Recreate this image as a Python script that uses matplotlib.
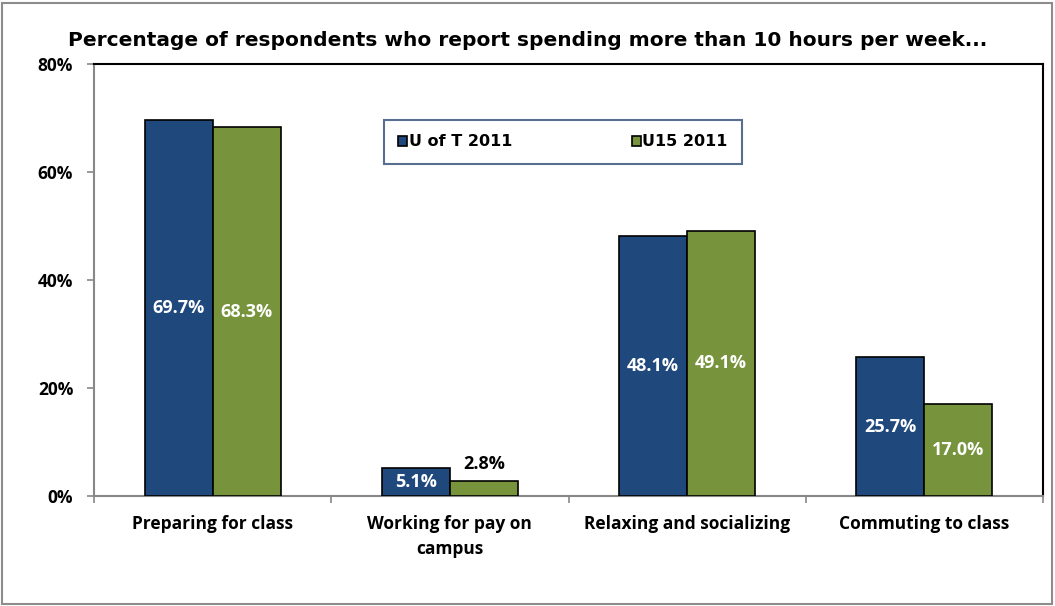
import matplotlib
matplotlib.use("Agg")
import matplotlib.pyplot as plt
import numpy as np
from matplotlib.patches import Rectangle

categories = ["Preparing for class", "Working for pay on\ncampus",
              "Relaxing and socializing", "Commuting to class"]
uoft_2011 = [69.7, 5.1, 48.1, 25.7]
u15_2011 = [68.3, 2.8, 49.1, 17.0]
series_names = ["U of T 2011", "U15 2011"]

blue = "#1F497D"
green = "#77933C"
label_font = ["Open Sans", "DejaVu Sans"]
title_font = ["DejaVu Sans"]

fig = plt.figure(figsize=(10.55, 6.06), dpi=100)
ax = fig.add_axes([94 / 1055, 1 - 496 / 606, (1043 - 94) / 1055, (496 - 64) / 606])

x = np.arange(len(categories))
w = 0.287
b1 = ax.bar(x - w / 2, uoft_2011, w, color=blue, edgecolor="black", linewidth=1.2,
            label=series_names[0], zorder=3)
b2 = ax.bar(x + w / 2, u15_2011, w, color=green, edgecolor="black", linewidth=1.2,
            label=series_names[1], zorder=3)

# value labels: white inside the bar, black above when the bar is too short
for bars, vals in ((b1, uoft_2011), (b2, u15_2011)):
    for rect, v in zip(bars, vals):
        cx = rect.get_x() + rect.get_width() / 2
        if v < 4:
            ax.text(cx, v + 1.5, f"{v:.1f}%", ha="center", va="bottom", color="black",
                    fontsize=13, fontweight="bold", family=label_font, zorder=4)
        else:
            ax.text(cx, v / 2, f"{v:.1f}%", ha="center", va="center", color="white",
                    fontsize=13, fontweight="bold", family=label_font, zorder=4)

ax.set_xlim(-0.5, len(categories) - 0.5)
ax.set_ylim(0, 80)
ax.set_yticks([0, 20, 40, 60, 80])
ax.set_yticklabels(["0%", "20%", "40%", "60%", "80%"])
ax.set_xticks(x)
ax.set_xticklabels(categories, linespacing=1.45)
ax.set_xticks(np.arange(-0.5, len(categories)), minor=True)
ax.tick_params(axis="x", which="major", length=0, pad=14)
ax.tick_params(axis="x", which="minor", length=5, color="#888888", width=1.2)
ax.tick_params(axis="y", length=5, color="#888888", width=1.2, pad=10)
for lbl in ax.get_xticklabels() + ax.get_yticklabels():
    lbl.set_family(label_font)
    lbl.set_fontweight("bold")
    lbl.set_fontsize(12.5)

ax.spines["left"].set_color("#888888")
ax.spines["bottom"].set_color("#888888")
ax.spines["top"].set_color("black")
ax.spines["right"].set_color("black")
for s in ax.spines.values():
    s.set_linewidth(1.5)

leg = ax.legend(loc="upper left", bbox_to_anchor=((384 - 94) / 949, (496 - 120) / 432),
                borderaxespad=0, ncol=2, frameon=True, fancybox=False,
                handlelength=0.55, handleheight=0.55, handletextpad=0.1,
                columnspacing=7.5, borderpad=0.9,
                prop={"family": title_font, "weight": "bold", "size": 11.5})
leg.get_frame().set_edgecolor("#2E4A75")
leg.get_frame().set_linewidth(1.5)

fig.text(68 / 1055, 1 - 40 / 606, "Percentage of respondents who report spending more than 10 hours per week...",
         ha="left", va="center", fontsize=14.5, fontweight="bold", family=title_font)

# outer chart frame
fig.patches.append(Rectangle((2 / 1055, 2 / 606), 1050 / 1055, 601 / 606, transform=fig.transFigure,
                             fill=False, edgecolor="#8C8C8C", linewidth=1.5))

fig.savefig("out.png", dpi=100)
